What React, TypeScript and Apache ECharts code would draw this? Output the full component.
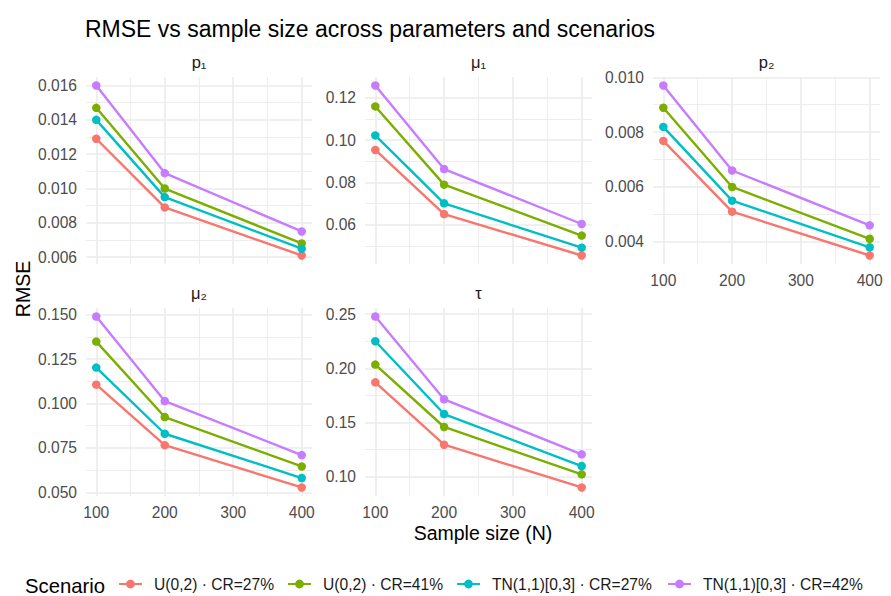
import React, { useEffect, useRef } from "react";
import * as echarts from "echarts";

// ---------- data ----------
const sampleSizes = [100, 200, 400];
const scenarioNames = [
  "U(0,2) · CR=27%",
  "U(0,2) · CR=41%",
  "TN(1,1)[0,3] · CR=27%",
  "TN(1,1)[0,3] · CR=42%",
];
const scenarioColors = ["#F8766D", "#7CAE00", "#00BFC4", "#C77CFF"];
const panelTitles = ["p₁", "μ₁", "p₂", "μ₂", "τ"];

// values per scenario (rows) at N = 100, 200, 400
const p1Values = [
  [0.0129, 0.0089, 0.0061],
  [0.0147, 0.01, 0.0068],
  [0.014, 0.0095, 0.0065],
  [0.016, 0.0109, 0.0075],
];
const mu1Values = [
  [0.0953, 0.065, 0.0454],
  [0.1159, 0.0789, 0.0548],
  [0.1022, 0.0701, 0.0491],
  [0.1258, 0.0863, 0.0603],
];
const p2Values = [
  [0.00768, 0.0051, 0.0035],
  [0.00889, 0.006, 0.00411],
  [0.00819, 0.0055, 0.0038],
  [0.0097, 0.0066, 0.0046],
];
const mu2Values = [
  [0.1106, 0.0766, 0.0528],
  [0.1348, 0.0924, 0.0646],
  [0.1202, 0.083, 0.0581],
  [0.1489, 0.1014, 0.071],
];
const tauValues = [
  [0.187, 0.1293, 0.0898],
  [0.2034, 0.1457, 0.1019],
  [0.225, 0.1577, 0.1096],
  [0.2478, 0.1713, 0.1204],
];

// tick values and labels
const xTicks = [100, 200, 300, 400];
const xMinorTicks = [150, 250, 350];
const p1Ticks = [0.006, 0.008, 0.01, 0.012, 0.014, 0.016];
const p1TickLabels = ["0.006", "0.008", "0.010", "0.012", "0.014", "0.016"];
const mu1Ticks = [0.06, 0.08, 0.1, 0.12];
const mu1TickLabels = ["0.06", "0.08", "0.10", "0.12"];
const p2Ticks = [0.004, 0.006, 0.008, 0.01];
const p2TickLabels = ["0.004", "0.006", "0.008", "0.010"];
const mu2Ticks = [0.05, 0.075, 0.1, 0.125, 0.15];
const mu2TickLabels = ["0.050", "0.075", "0.100", "0.125", "0.150"];
const tauTicks = [0.1, 0.15, 0.2, 0.25];
const tauTickLabels = ["0.10", "0.15", "0.20", "0.25"];

const panelValues = [p1Values, mu1Values, p2Values, mu2Values, tauValues];
const panelTicks = [p1Ticks, mu1Ticks, p2Ticks, mu2Ticks, tauTicks];
const panelTickLabels = [p1TickLabels, mu1TickLabels, p2TickLabels, mu2TickLabels, tauTickLabels];

// ---------- layout ----------
const W = 891;
const H = 596;
const FONT = "'Liberation Sans', Arial, Helvetica, sans-serif";
const gridRects = [
  { left: 86, top: 77, width: 226, height: 187 },
  { left: 365, top: 77, width: 227, height: 187 },
  { left: 653, top: 77, width: 227, height: 187 },
  { left: 86, top: 308, width: 226, height: 188 },
  { left: 365, top: 308, width: 227, height: 188 },
];
const showXLabels = [false, false, true, true, true];
const legendLefts = [118, 287, 456, 667];
const GRID_COLOR = "#EBEBEB";

function buildOption() {
  const grids: any[] = [];
  const xAxes: any[] = [];
  const yAxes: any[] = [];
  const series: any[] = [];
  const graphics: any[] = [];

  const xMin = 100 - 0.05 * 300;
  const xMax = 400 + 0.05 * 300;

  panelValues.forEach((vals, i) => {
    const r = gridRects[i];
    grids.push({ left: r.left, top: r.top, width: r.width, height: r.height, containLabel: false });

    const flat = vals.flat();
    const lo = Math.min(...flat);
    const hi = Math.max(...flat);
    const pad = (hi - lo) * 0.05;
    const yMin = lo - pad;
    const yMax = hi + pad + 1e-9;
    const ticks = panelTicks[i];
    const labels = panelTickLabels[i];
    const step = ticks[1] - ticks[0];
    const minors: number[] = [];
    for (let k = -1; k < ticks.length; k++) {
      const m = ticks[0] + (k + 0.5) * step;
      if (m > yMin && m < yMax) minors.push(m);
    }

    // major x
    xAxes.push({
      gridIndex: i,
      type: "value",
      min: xMin,
      max: xMax,
      axisLine: { show: false },
      axisTick: { show: false, customValues: xTicks },
      axisLabel: {
        show: showXLabels[i],
        customValues: xTicks,
        margin: 8,
        fontSize: 15.6,
        color: "#4D4D4D",
        fontFamily: FONT,
      },
      splitLine: { show: true, lineStyle: { color: GRID_COLOR, width: 1.6 } },
    });
    // minor x
    xAxes.push({
      gridIndex: i,
      type: "value",
      min: xMin,
      max: xMax,
      axisLine: { show: false },
      axisTick: { show: false, customValues: xMinorTicks },
      axisLabel: { show: false, customValues: xMinorTicks },
      splitLine: { show: true, lineStyle: { color: GRID_COLOR, width: 0.9 } },
    });
    // major y
    yAxes.push({
      gridIndex: i,
      type: "value",
      min: yMin,
      max: yMax,
      axisLine: { show: false },
      axisTick: { show: false, customValues: ticks },
      axisLabel: {
        show: true,
        customValues: ticks,
        margin: 9,
        fontSize: 15.6,
        color: "#4D4D4D",
        fontFamily: FONT,
        hideOverlap: false,
        formatter: (v: number) => {
          let best = 0;
          ticks.forEach((t, k) => {
            if (Math.abs(t - v) < Math.abs(ticks[best] - v)) best = k;
          });
          return labels[best];
        },
      },
      splitLine: { show: true, lineStyle: { color: GRID_COLOR, width: 1.6 } },
    });
    // minor y
    yAxes.push({
      gridIndex: i,
      type: "value",
      min: yMin,
      max: yMax,
      axisLine: { show: false },
      axisTick: { show: false, customValues: minors },
      axisLabel: { show: false, customValues: minors },
      splitLine: { show: true, lineStyle: { color: GRID_COLOR, width: 0.9 } },
    });

    vals.forEach((row, s) => {
      series.push({
        type: "line",
        name: scenarioNames[s],
        xAxisIndex: 2 * i,
        yAxisIndex: 2 * i,
        data: sampleSizes.map((n, j) => [n, row[j]]),
        symbol: "circle",
        symbolSize: 8.5,
        showSymbol: true,
        clip: false,
        color: scenarioColors[s],
        lineStyle: { width: 2.4, color: scenarioColors[s] },
        itemStyle: { color: scenarioColors[s] },
        emphasis: { disabled: true },
      });
    });

    graphics.push({
      type: "text",
      x: r.left + r.width / 2,
      y: r.top - 15,
      style: {
        text: panelTitles[i],
        fontSize: 16.5,
        fontFamily: FONT,
        fill: "#1A1A1A",
        textAlign: "center",
        textVerticalAlign: "middle",
      },
    });
  });

  graphics.push(
    {
      type: "text",
      x: 23,
      y: 289,
      rotation: Math.PI / 2,
      style: {
        text: "RMSE",
        fontSize: 19.5,
        fontFamily: FONT,
        fill: "#000",
        textAlign: "center",
        textVerticalAlign: "middle",
      },
    },
    {
      type: "text",
      x: 483,
      y: 533,
      style: {
        text: "Sample size (N)",
        fontSize: 19.5,
        fontFamily: FONT,
        fill: "#000",
        textAlign: "center",
        textVerticalAlign: "middle",
      },
    },
    {
      type: "text",
      x: 25,
      y: 586,
      style: {
        text: "Scenario",
        fontSize: 20.3,
        fontFamily: FONT,
        fill: "#000",
        textAlign: "left",
        textVerticalAlign: "middle",
      },
    }
  );

  const legends = scenarioNames.map((name, k) => ({
    data: [name],
    left: legendLefts[k],
    top: 576,
    padding: 0,
    itemWidth: 23,
    itemHeight: 11,
    selectedMode: false,
    textStyle: { fontSize: 15.6, color: "#1A1A1A", fontFamily: FONT, padding: [0, 0, 0, 7] },
  }));

  return {
    animation: false,
    backgroundColor: "#ffffff",
    title: {
      text: "RMSE vs sample size across parameters and scenarios",
      left: 80,
      top: 12,
      textStyle: { fontSize: 23, fontWeight: "normal", color: "#000", fontFamily: FONT },
    },
    legend: legends,
    grid: grids,
    xAxis: xAxes,
    yAxis: yAxes,
    series,
    graphic: graphics,
  };
}

export default function App() {
  const ref = useRef<HTMLDivElement>(null);
  useEffect(() => {
    document.body.style.margin = "0";
    if (!ref.current) return;
    const chart = echarts.init(ref.current, null, { renderer: "svg" });
    chart.setOption(buildOption() as any);
    return () => chart.dispose();
  }, []);
  return <div ref={ref} style={{ width: W, height: H }} />;
}
